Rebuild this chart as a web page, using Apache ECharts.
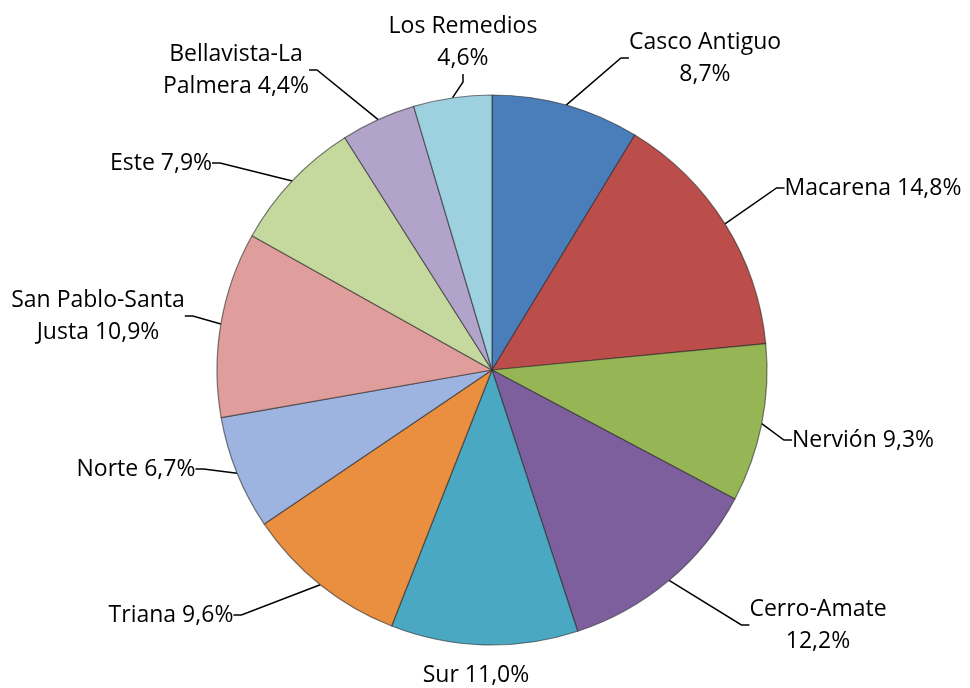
<!DOCTYPE html>
<html>
<head>
<meta charset="utf-8">
<script src="https://cdn.jsdelivr.net/npm/echarts@6/dist/echarts.min.js"></script>
<style>
html,body{margin:0;padding:0;background:#fff;}
#c{width:970px;height:688px;}
</style>
</head>
<body>
<div id="c"></div>
<script>
// Data
const categories = ['Casco Antiguo','Macarena','Nervión','Cerro-Amate','Sur','Triana','Norte','San Pablo-Santa Justa','Este','Bellavista-La Palmera','Los Remedios'];
const values = [8.7, 14.8, 9.3, 12.2, 11.0, 9.6, 6.7, 10.9, 7.9, 4.4, 4.6];

// Styles / layout
const colors = ['#4A7EBB','#BB4D4A','#96B656','#7E5F9E','#4AA8C2','#EA8F3F','#9DB4E0','#DF9D9C','#C5D99E','#B2A3CA','#9ED1E0'];
const labelPos = [[705,58],[873,188],[863,440],[818,625],[476,675],[171,615],[136,469],[98,316],[161,163],[236,70],[463,42]];
const wrapIdx = {0:'pct',3:'pct',10:'pct',7:'San Pablo-Santa',9:'Bellavista-La'};

function fmtPct(v){ return v.toFixed(1).replace('.', ',') + '%'; }

const chart = echarts.init(document.getElementById('c'));
chart.setOption({
  animation: false,
  series: [{
    type: 'pie',
    center: [492, 370],
    radius: [0, 275],
    startAngle: 90,
    clockwise: true,
    data: categories.map((n, i) => ({
      name: n, value: values[i],
      itemStyle: {color: colors[i]},
      labelLine: {show: i !== 4}
    })),
    itemStyle: {borderColor: 'rgba(40,40,40,0.6)', borderWidth: 1.2},
    label: {
      show: true,
      color: '#000',
      fontFamily: 'Open Sans',
      fontSize: 23,
      lineHeight: 32,
      align: 'center',
      formatter: function(p){
        const i = p.dataIndex;
        const pct = fmtPct(values[i]);
        const w = wrapIdx[i];
        if (w === 'pct') return p.name + '\n' + pct;
        if (w) return w + '\n' + p.name.slice(w.length + 1) + ' ' + pct;
        return p.name + ' ' + pct;
      }
    },
    labelLine: {show: true, length: 10, length2: 8, lineStyle: {color: '#000', width: 1.5}},
    labelLayout: function(params){
      const pos = labelPos[params.dataIndex];
      return {x: pos[0], y: pos[1], align: 'center', verticalAlign: 'middle'};
    }
  }]
});
</script>
</body>
</html>
